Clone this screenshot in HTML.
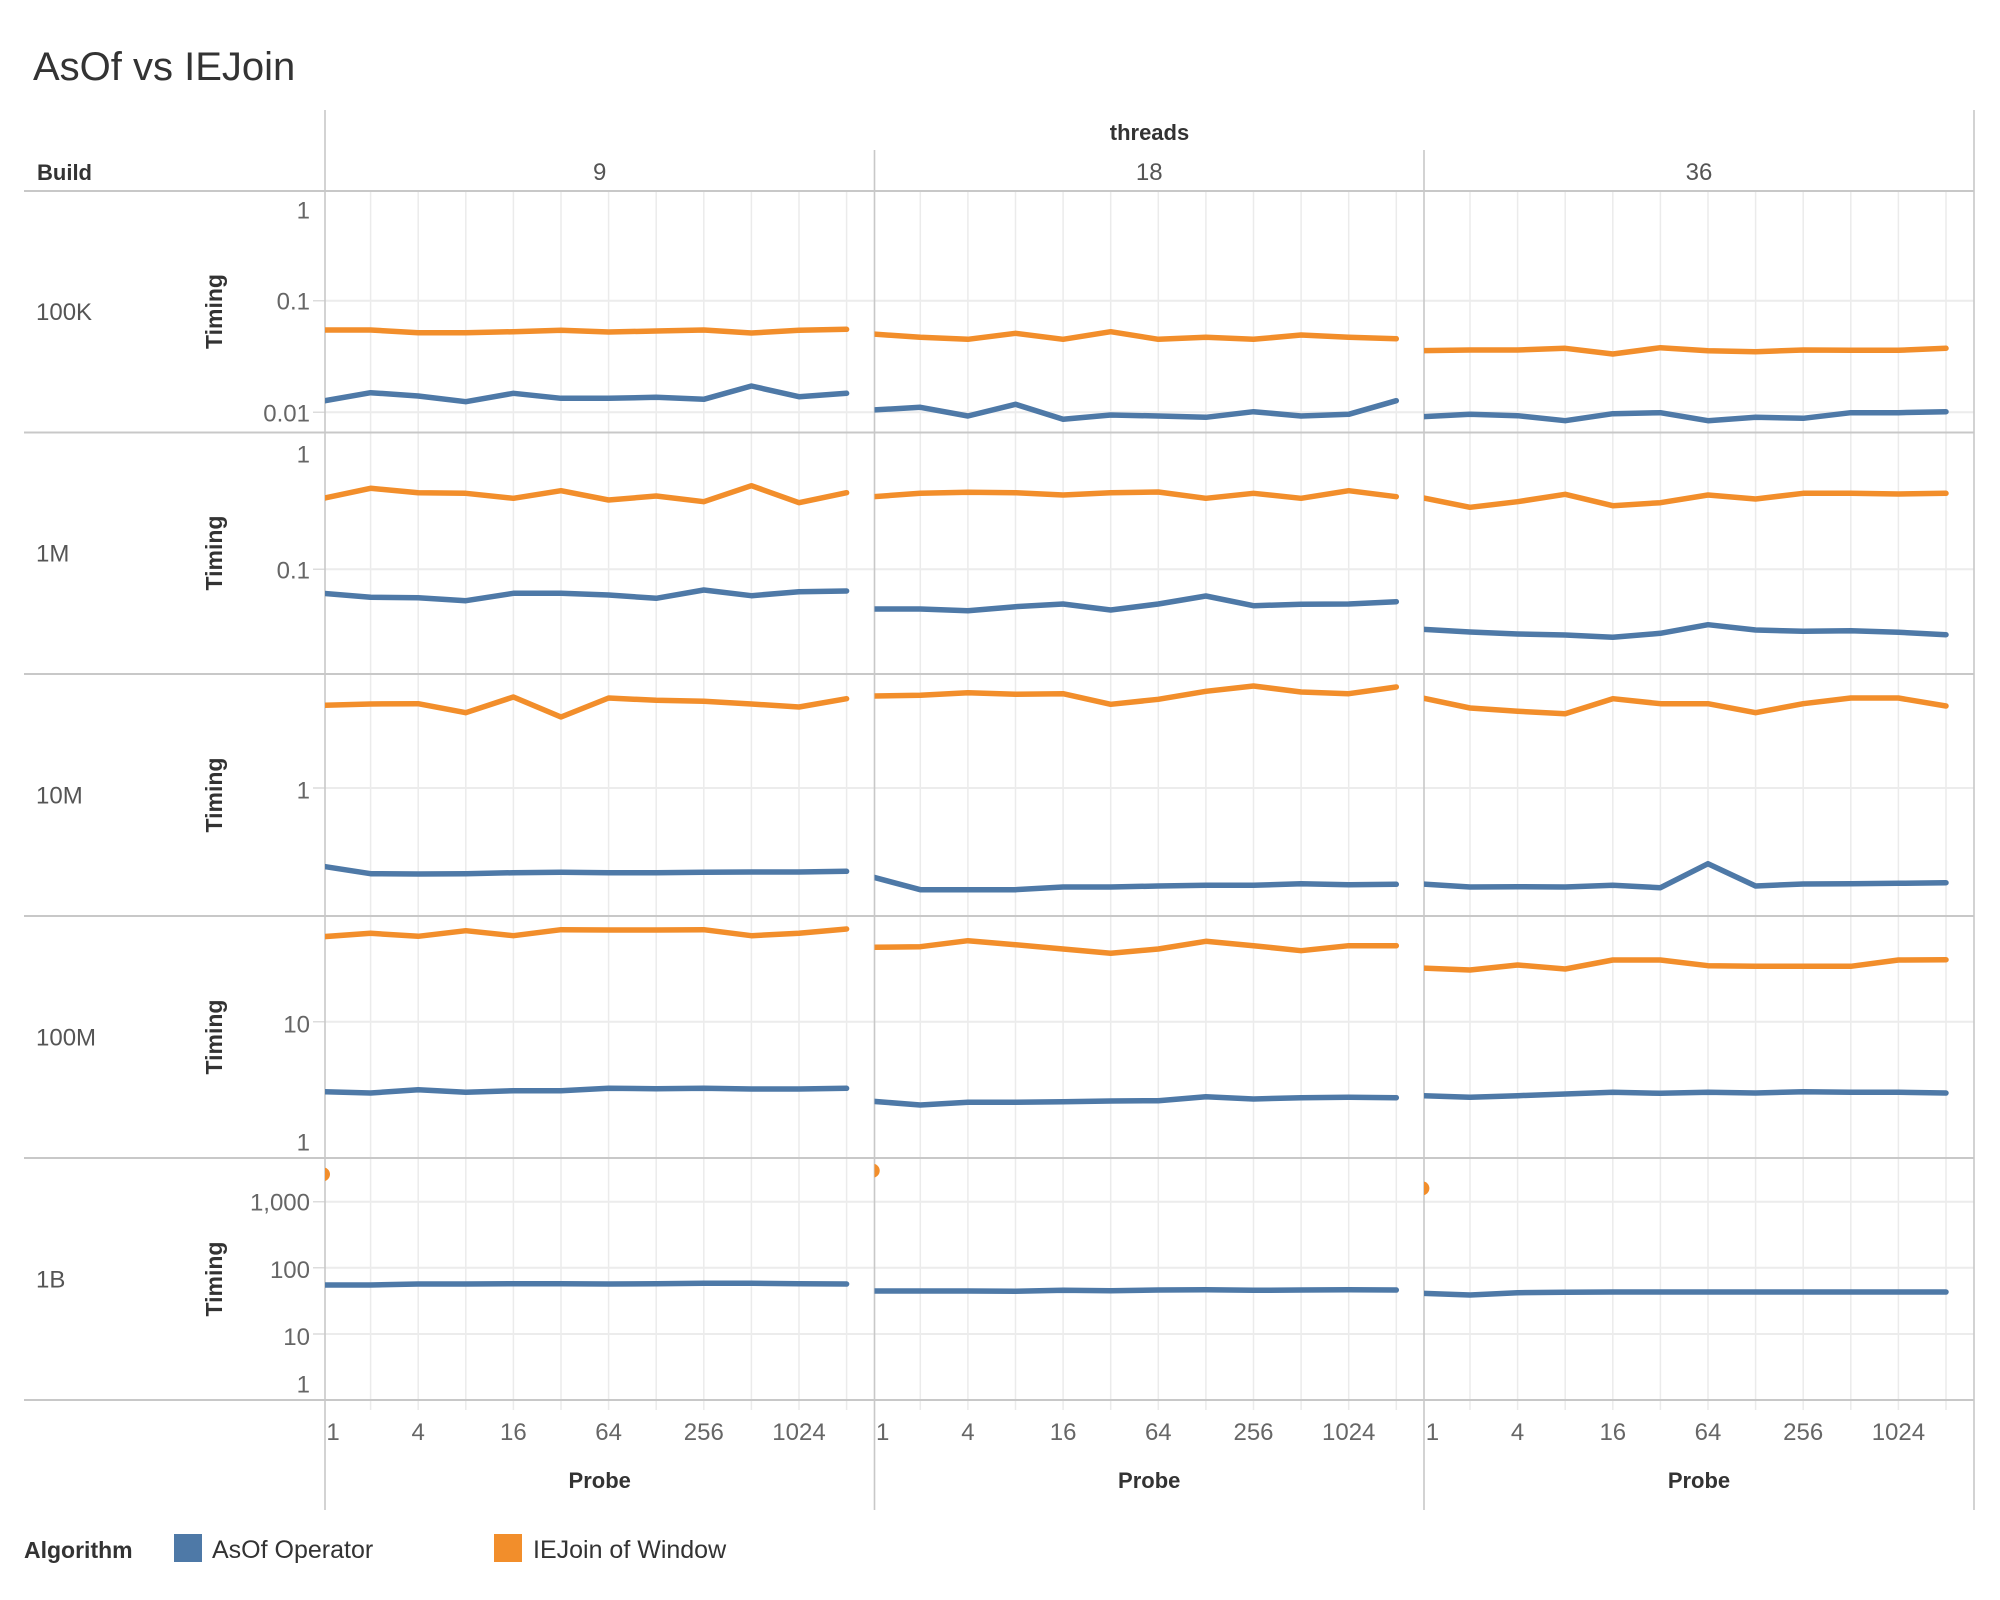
<!DOCTYPE html>
<html><head><meta charset="utf-8"><style>
html,body{margin:0;padding:0;background:#fff;}
svg{display:block;}
text{font-family:"Liberation Sans",sans-serif;}
</style></head><body>
<svg xmlns="http://www.w3.org/2000/svg" width="2000" height="1600" viewBox="0 0 2000 1600">
<defs>
<clipPath id="c0"><rect x="325" y="191" width="549.5" height="1209"/></clipPath>
<clipPath id="c1"><rect x="874.5" y="191" width="549.5" height="1209"/></clipPath>
<clipPath id="c2"><rect x="1424" y="191" width="550" height="1209"/></clipPath>
</defs>
<rect width="2000" height="1600" fill="#fff"/>

<!-- vertical gridlines -->
<path stroke="#ebebeb" stroke-width="1.5" fill="none" d="
M370.6 191V1410 M418.2 191V1410 M465.8 191V1410 M513.4 191V1410 M561 191V1410 M608.6 191V1410 M656.2 191V1410 M703.8 191V1410 M751.4 191V1410 M799 191V1410 M846.6 191V1410
M920.3 191V1410 M967.9 191V1410 M1015.5 191V1410 M1063.1 191V1410 M1110.7 191V1410 M1158.3 191V1410 M1205.9 191V1410 M1253.5 191V1410 M1301.1 191V1410 M1348.7 191V1410 M1396.3 191V1410
M1470 191V1410 M1517.6 191V1410 M1565.2 191V1410 M1612.8 191V1410 M1660.4 191V1410 M1708 191V1410 M1755.6 191V1410 M1803.2 191V1410 M1850.8 191V1410 M1898.4 191V1410 M1946 191V1410"/>

<!-- horizontal gridlines -->
<path stroke="#ececec" stroke-width="2" fill="none" d="
M325 300.7H1974 M325 412.3H1974 M325 569.3H1974 M325 788H1974 M325 1021.7H1974 M325 1201.7H1974 M325 1267.7H1974 M325 1334H1974"/>
<!-- major tick marks on y axis -->
<path stroke="#dcdcdc" stroke-width="1.5" fill="none" d="
M313 300.7H325 M313 412.3H325 M313 569.3H325 M313 788H325 M313 1021.7H325 M313 1201.7H325 M313 1267.7H325 M313 1334H325"/>

<!-- frame lines -->
<path stroke="#c8c8c8" stroke-width="2" fill="none" d="
M24 191H1974 M24 432.5H1974 M24 674H1974 M24 916H1974 M24 1158H1974 M24 1400H1974"/>
<path stroke="#c8c8c8" stroke-width="1.6" fill="none" d="
M325 110V1510 M874.5 150V1510 M1424 150V1510 M1974 110V1510"/>

<!-- data series -->
<g fill="none" stroke-width="5.5" stroke-linejoin="round" stroke-linecap="round">
<g clip-path="url(#c0)">
<polyline stroke="#f28e2b" points="323,330 370.6,330 418.2,332.7 465.8,332.7 513.4,331.7 561,330.3 608.6,332 656.2,331 703.8,330 751.4,333 799,330.3 846.6,329.3"/>
<polyline stroke="#4e79a7" points="323,401 370.6,392.7 418.2,396 465.8,401.7 513.4,393.3 561,398.3 608.6,398.3 656.2,397.3 703.8,399.3 751.4,386 799,396.7 846.6,393.3"/>
<polyline stroke="#f28e2b" points="323,498.3 370.6,488.3 418.2,492.7 465.8,493.3 513.4,498.3 561,490.7 608.6,500 656.2,496 703.8,501.7 751.4,485.7 799,502.7 846.6,492.7"/>
<polyline stroke="#4e79a7" points="323,593.3 370.6,597.3 418.2,597.7 465.8,600.7 513.4,593.3 561,593.3 608.6,595 656.2,598.3 703.8,590 751.4,595.7 799,591.7 846.6,591"/>
<polyline stroke="#f28e2b" points="323,705.3 370.6,704 418.2,703.7 465.8,712.7 513.4,697 561,717 608.6,698 656.2,700.3 703.8,701.3 751.4,704 799,707 846.6,698.7"/>
<polyline stroke="#4e79a7" points="323,866.3 370.6,873.7 418.2,874 465.8,873.7 513.4,872.7 561,872.3 608.6,872.7 656.2,872.7 703.8,872.3 751.4,872 799,872 846.6,871.3"/>
<polyline stroke="#f28e2b" points="323,936.7 370.6,933.3 418.2,936.3 465.8,930.7 513.4,935.7 561,929.7 608.6,930 656.2,930 703.8,929.7 751.4,935.7 799,933.3 846.6,929"/>
<polyline stroke="#4e79a7" points="323,1091.7 370.6,1093 418.2,1089.7 465.8,1092.3 513.4,1090.7 561,1090.7 608.6,1088.3 656.2,1088.7 703.8,1088.3 751.4,1089 799,1089 846.6,1088.3"/>
<polyline stroke="#4e79a7" points="323,1285 370.6,1285 418.2,1284 465.8,1284 513.4,1283.7 561,1283.7 608.6,1284 656.2,1283.7 703.8,1283.3 751.4,1283.3 799,1283.7 846.6,1284"/>
<circle cx="323" cy="1174.3" r="7" fill="#f28e2b" stroke="none"/>
</g>
<g clip-path="url(#c1)">
<polyline stroke="#f28e2b" points="872.7,334 920.3,337.3 967.9,339.3 1015.5,333.3 1063.1,339.3 1110.7,331.7 1158.3,339.3 1205.9,337.3 1253.5,339.3 1301.1,335 1348.7,337.3 1396.3,338.7"/>
<polyline stroke="#4e79a7" points="872.7,410 920.3,407.3 967.9,416 1015.5,404.3 1063.1,419.3 1110.7,415 1158.3,416 1205.9,417.3 1253.5,411.7 1301.1,416 1348.7,414.3 1396.3,400.7"/>
<polyline stroke="#f28e2b" points="872.7,496.7 920.3,493.3 967.9,492.3 1015.5,492.7 1063.1,495 1110.7,492.7 1158.3,492 1205.9,498.3 1253.5,493.3 1301.1,498.3 1348.7,490.7 1396.3,496.7"/>
<polyline stroke="#4e79a7" points="872.7,609 920.3,609 967.9,610.7 1015.5,606.7 1063.1,604 1110.7,610 1158.3,604 1205.9,596 1253.5,605.7 1301.1,604.3 1348.7,604 1396.3,601.7"/>
<polyline stroke="#f28e2b" points="872.7,696 920.3,695.3 967.9,692.7 1015.5,694.3 1063.1,693.7 1110.7,704.3 1158.3,699.3 1205.9,691.3 1253.5,686 1301.1,692 1348.7,693.7 1396.3,687"/>
<polyline stroke="#4e79a7" points="872.7,877 920.3,889.7 967.9,889.7 1015.5,889.7 1063.1,887 1110.7,887 1158.3,886 1205.9,885.3 1253.5,885.3 1301.1,883.7 1348.7,884.7 1396.3,884.3"/>
<polyline stroke="#f28e2b" points="872.7,947.3 920.3,946.7 967.9,940.7 1015.5,944.7 1063.1,949 1110.7,953.3 1158.3,949 1205.9,941.3 1253.5,945.7 1301.1,950.7 1348.7,945.7 1396.3,945.7"/>
<polyline stroke="#4e79a7" points="872.7,1101.3 920.3,1105 967.9,1102.3 1015.5,1102.3 1063.1,1101.7 1110.7,1101 1158.3,1100.7 1205.9,1096.7 1253.5,1099 1301.1,1097.7 1348.7,1097.3 1396.3,1097.7"/>
<polyline stroke="#4e79a7" points="872.7,1291 920.3,1291 967.9,1291 1015.5,1291.3 1063.1,1290.3 1110.7,1290.7 1158.3,1290 1205.9,1289.7 1253.5,1290.3 1301.1,1290 1348.7,1289.7 1396.3,1290"/>
<circle cx="872.7" cy="1170.7" r="7" fill="#f28e2b" stroke="none"/>
</g>
<g clip-path="url(#c2)">
<polyline stroke="#f28e2b" points="1422.4,350.7 1470,350 1517.6,350 1565.2,348.3 1612.8,354 1660.4,347.7 1708,350.7 1755.6,351.7 1803.2,350 1850.8,350.3 1898.4,350.3 1946,348.3"/>
<polyline stroke="#4e79a7" points="1422.4,416.7 1470,414.3 1517.6,415.7 1565.2,420.7 1612.8,413.7 1660.4,412.7 1708,420.7 1755.6,417.3 1803.2,418.3 1850.8,412.7 1898.4,412.7 1946,411.7"/>
<polyline stroke="#f28e2b" points="1422.4,497.7 1470,507.3 1517.6,501.7 1565.2,494.3 1612.8,505.7 1660.4,502.7 1708,495 1755.6,499 1803.2,493.3 1850.8,493.3 1898.4,494 1946,493.3"/>
<polyline stroke="#4e79a7" points="1422.4,629.3 1470,632 1517.6,634 1565.2,635 1612.8,637.3 1660.4,633.3 1708,624.7 1755.6,630 1803.2,631.3 1850.8,630.7 1898.4,632.3 1946,634.7"/>
<polyline stroke="#f28e2b" points="1422.4,698 1470,708 1517.6,711.3 1565.2,713.7 1612.8,698.7 1660.4,703.7 1708,703.7 1755.6,712.7 1803.2,703.7 1850.8,698 1898.4,698 1946,706"/>
<polyline stroke="#4e79a7" points="1422.4,884 1470,887 1517.6,886.7 1565.2,887 1612.8,885.3 1660.4,887.7 1708,863.7 1755.6,886 1803.2,884 1850.8,883.7 1898.4,883.3 1946,882.7"/>
<polyline stroke="#f28e2b" points="1422.4,968 1470,970 1517.6,965 1565.2,969 1612.8,960 1660.4,960 1708,965.7 1755.6,966.3 1803.2,966.3 1850.8,966.3 1898.4,960 1946,959.7"/>
<polyline stroke="#4e79a7" points="1422.4,1095.7 1470,1097.3 1517.6,1095.7 1565.2,1094 1612.8,1092.3 1660.4,1093.3 1708,1092.3 1755.6,1093 1803.2,1091.7 1850.8,1092.3 1898.4,1092.3 1946,1093"/>
<polyline stroke="#4e79a7" points="1422.4,1293.3 1470,1295 1517.6,1292.7 1565.2,1292.3 1612.8,1292 1660.4,1292 1708,1292 1755.6,1292 1803.2,1292 1850.8,1292 1898.4,1292 1946,1292"/>
<circle cx="1422.4" cy="1188.3" r="7" fill="#f28e2b" stroke="none"/>
</g>
</g>

<!-- title -->
<text x="33" y="80" font-size="40" fill="#333">AsOf vs IEJoin</text>

<!-- headers -->
<text x="1149.5" y="140" font-size="22" font-weight="bold" fill="#333" text-anchor="middle">threads</text>
<text x="37" y="180" font-size="22" font-weight="bold" fill="#333">Build</text>
<g font-size="24" fill="#555" text-anchor="middle">
<text x="599.7" y="180">9</text>
<text x="1149.2" y="180">18</text>
<text x="1699" y="180">36</text>
</g>

<!-- row labels -->
<g font-size="24" fill="#555">
<text x="36" y="320">100K</text>
<text x="36" y="561.5">1M</text>
<text x="36" y="803.5">10M</text>
<text x="36" y="1045.5">100M</text>
<text x="36" y="1287.5">1B</text>
</g>

<!-- Timing axis titles -->
<g font-size="23" font-weight="bold" fill="#333" text-anchor="middle">
<text transform="translate(222,311.5) rotate(-90)">Timing</text>
<text transform="translate(222,553) rotate(-90)">Timing</text>
<text transform="translate(222,795) rotate(-90)">Timing</text>
<text transform="translate(222,1037) rotate(-90)">Timing</text>
<text transform="translate(222,1279) rotate(-90)">Timing</text>
</g>

<!-- y tick labels -->
<g font-size="24" fill="#666" text-anchor="end">
<text x="310" y="218.5">1</text>
<text x="310" y="309.5">0.1</text>
<text x="310" y="421.5">0.01</text>
<text x="310" y="462.5">1</text>
<text x="310" y="578.5">0.1</text>
<text x="310" y="798.5">1</text>
<text x="310" y="1032.5">10</text>
<text x="310" y="1150.5">1</text>
<text x="310" y="1210.5">1,000</text>
<text x="310" y="1278">100</text>
<text x="310" y="1345">10</text>
<text x="310" y="1392.5">1</text>
</g>

<!-- x axis tick stubs -->
<!-- x tick labels -->
<g font-size="24" fill="#666" text-anchor="middle">
<text x="333" y="1440">1</text>
<text x="418.2" y="1440">4</text>
<text x="513.4" y="1440">16</text>
<text x="608.6" y="1440">64</text>
<text x="703.8" y="1440">256</text>
<text x="799" y="1440">1024</text>
<text x="882.7" y="1440">1</text>
<text x="967.9" y="1440">4</text>
<text x="1063.1" y="1440">16</text>
<text x="1158.3" y="1440">64</text>
<text x="1253.5" y="1440">256</text>
<text x="1348.7" y="1440">1024</text>
<text x="1432.4" y="1440">1</text>
<text x="1517.6" y="1440">4</text>
<text x="1612.8" y="1440">16</text>
<text x="1708" y="1440">64</text>
<text x="1803.2" y="1440">256</text>
<text x="1898.4" y="1440">1024</text>
</g>
<g font-size="22" font-weight="bold" fill="#333" text-anchor="middle">
<text x="599.7" y="1488">Probe</text>
<text x="1149.2" y="1488">Probe</text>
<text x="1699" y="1488">Probe</text>
</g>

<!-- legend -->
<text x="24" y="1558" font-size="23" font-weight="bold" fill="#333">Algorithm</text>
<rect x="174" y="1534" width="28" height="28" fill="#4e79a7"/>
<text x="212" y="1558" font-size="25" fill="#333">AsOf Operator</text>
<rect x="494" y="1534" width="28" height="28" fill="#f28e2b"/>
<text x="533" y="1558" font-size="25" fill="#333">IEJoin of Window</text>
</svg>
</body></html>
